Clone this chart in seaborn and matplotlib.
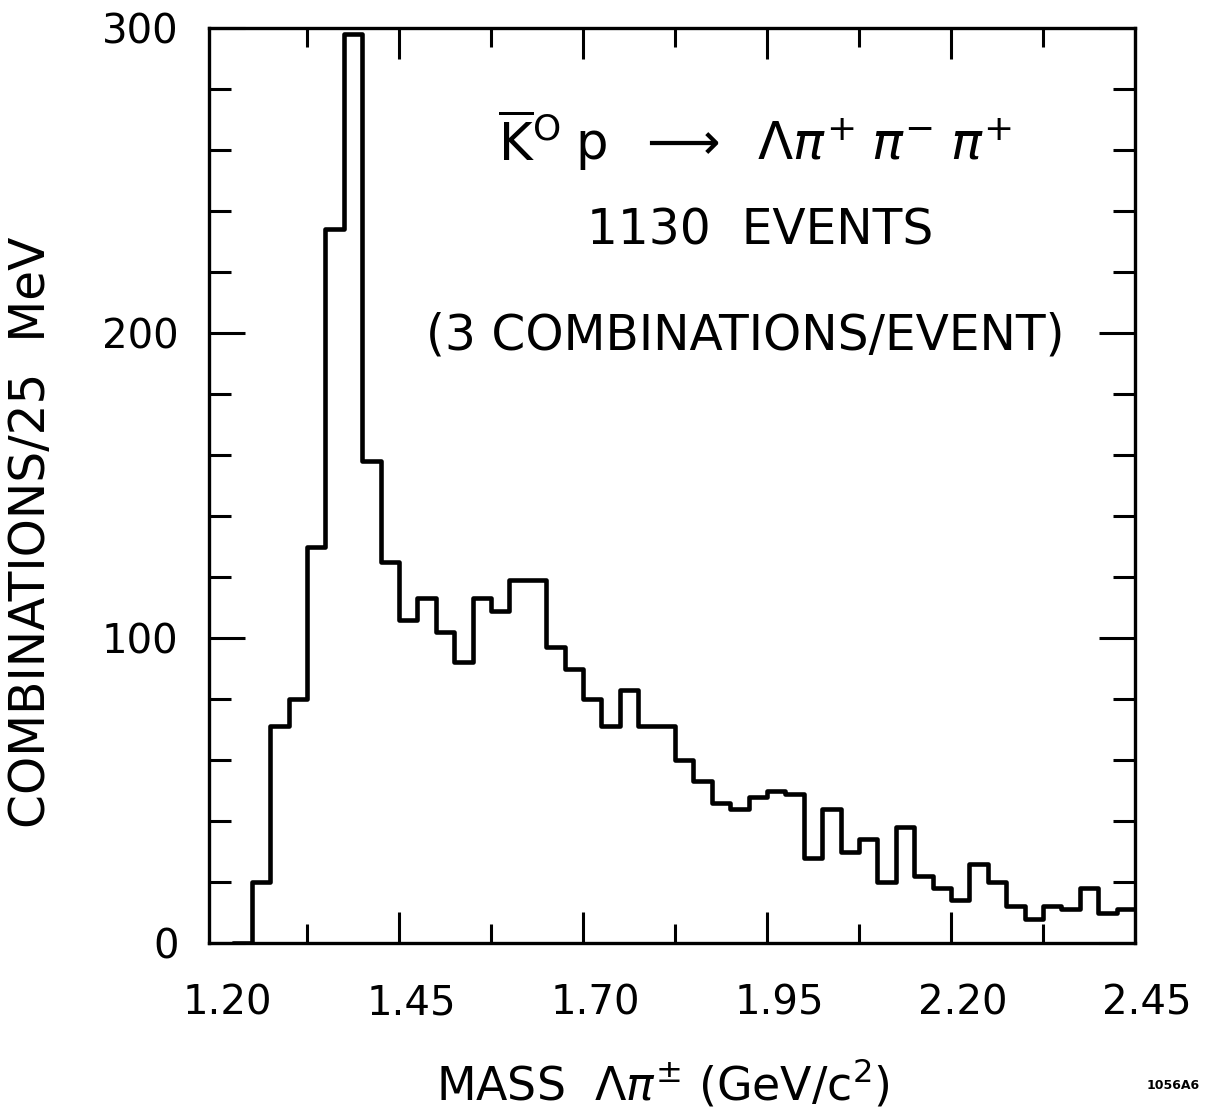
import numpy as np
import pandas as pd
import matplotlib
matplotlib.use("Agg")
import matplotlib.pyplot as plt
import matplotlib.transforms as mtransforms
import seaborn as sns

# Lambda-pi invariant mass spectrum, 25 MeV bins from 1.225 to 2.45 GeV/c^2
# (the first bin lies below the Lambda-pi threshold and is empty)
bin_low = 1.225
bin_width = 0.025
counts = [0, 20, 71, 80, 130, 234, 298, 158, 125, 106, 113, 102, 92,
          113, 109, 119, 119, 97, 90, 80, 71, 83, 71, 71, 60,
          53, 46, 44, 48, 50, 49, 28, 44, 30, 34, 20, 38,
          22, 18, 14, 26, 20, 12, 8, 12, 11, 18, 10, 11]

x_major = [1.20, 1.45, 1.70, 1.95, 2.20, 2.45]
x_major_labels = ["1.20", "1.45", "1.70", "1.95", "2.20", "2.45"]
x_minor = [1.325, 1.575, 1.825, 2.075, 2.325]
y_major = [0, 100, 200, 300]
y_major_labels = ["0", "100", "200", "300"]
y_minor = [20, 40, 60, 80, 120, 140, 160, 180, 220, 240, 260, 280]

edges = [round(bin_low + bin_width * i, 4) for i in range(len(counts) + 1)]
centers = [(a + b) / 2 for a, b in zip(edges[:-1], edges[1:])]
df = pd.DataFrame({"mass": centers, "n": counts})

sns.set_theme(style="white")
plt.rcParams["font.family"] = ["DejaVu Sans"]
plt.rcParams["mathtext.fontset"] = "dejavusans"
for key in ["text.color", "axes.labelcolor", "xtick.color", "ytick.color"]:
    plt.rcParams[key] = "black"

fig = plt.figure(figsize=(12.07, 11.13), dpi=100)
ax = fig.add_axes([0.1732, 0.1527, 0.9403 - 0.1732, 0.9748 - 0.1527])

sns.histplot(data=df, x="mass", weights="n", bins=edges, element="step",
             fill=False, color="black", linewidth=3.3, ax=ax)

ax.set_xlim(1.192, 2.45)
ax.set_ylim(0, 300)

for side in ["left", "right", "top", "bottom"]:
    ax.spines[side].set_visible(True)
    ax.spines[side].set_color("black")
    ax.spines[side].set_linewidth(2.4)
    ax.spines[side].set_zorder(3)

ax.set_xticks(x_major)
ax.set_xticklabels(x_major_labels)
ax.set_xticks(x_minor, minor=True)
ax.set_yticks(y_major)
ax.set_yticklabels(y_major_labels)
ax.set_yticks(y_minor, minor=True)

ax.tick_params(axis="both", which="both", direction="in", color="black",
               top=True, right=True, bottom=True, left=True, width=2.2)
ax.tick_params(axis="x", which="major", length=22, labelsize=29, pad=29)
ax.tick_params(axis="x", which="minor", length=14)
ax.tick_params(axis="y", which="major", length=26, labelsize=29, pad=22)
ax.tick_params(axis="y", which="minor", length=16)

# the 1.20 tick sits against the left frame; keep only its label
first_tick = ax.xaxis.get_major_ticks()[0]
first_tick.tick1line.set_visible(False)
first_tick.tick2line.set_visible(False)

shift = mtransforms.ScaledTranslation(0.12, 0, fig.dpi_scale_trans)
for lab in ax.get_xticklabels():
    lab.set_transform(lab.get_transform() + shift)

ax.set_xlabel(r"MASS  $\Lambda\pi^{\pm}$ (GeV/c$^2$)", fontsize=33)
ax.xaxis.set_label_coords(0.49, -0.125)
ax.set_ylabel("COMBINATIONS/25  MeV", fontsize=35)
ax.yaxis.set_label_coords(-0.166, 0.449)

ax.text(0.59, 0.878,
        r"$\overline{\mathrm{K}}^{\mathrm{O}}\;\mathrm{p}\;\;\longrightarrow\;\;\Lambda\pi^{+}\;\pi^{-}\;\pi^{+}$",
        transform=ax.transAxes, ha="center", va="center", fontsize=37)
ax.text(0.595, 0.779, "1130  EVENTS", transform=ax.transAxes,
        ha="center", va="center", fontsize=35)
ax.text(0.579, 0.664, "(3 COMBINATIONS/EVENT)", transform=ax.transAxes,
        ha="center", va="center", fontsize=35)

fig.text(0.972, 0.025, "1056A6", ha="center", va="center", fontsize=9,
         fontweight="bold")

fig.savefig("out.png", dpi=100, facecolor="white")
